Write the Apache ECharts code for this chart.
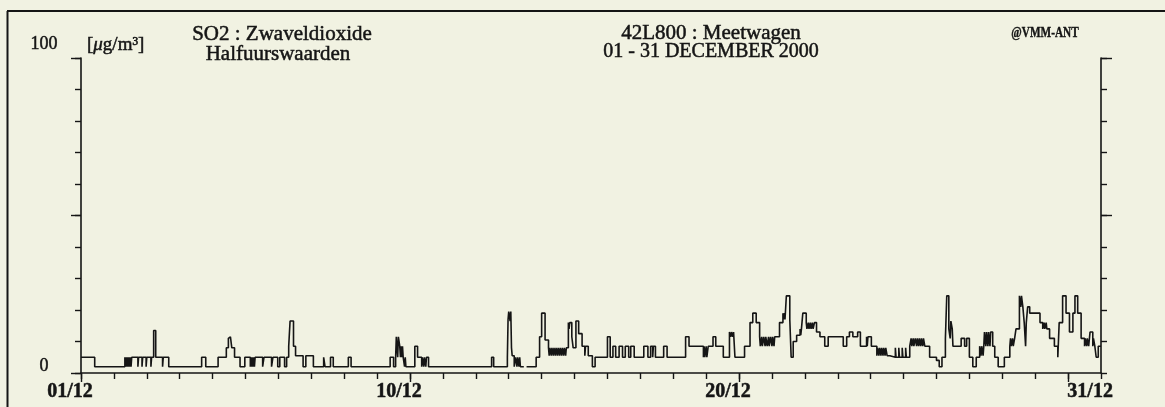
<!DOCTYPE html>
<html>
<head>
<meta charset="utf-8">
<script src="https://cdn.jsdelivr.net/npm/echarts@6/dist/echarts.min.js"></script>
<style>
html,body{margin:0;padding:0;background:#f1f2e2;}
#chart{width:1165px;height:407px;}
</style>
</head>
<body>
<div id="chart"></div>
<script>
// Half-hourly SO2 values as step change points: [hours since 01/12 00:00, value µg/m³]
const stepsA = [[0,5],[10,2],[32,5],[32.5,2],[33,5],[33.5,2],[34,5],[34.5,2],[35,5],[35.5,2],[36,5],[36.5,2],[37,5],[41.5,2],[42,5],[44.5,2],[45,5],[47.5,2],[48,5],[51,2],[51.5,5],[53,13.5],[54.5,5],[59.5,2],[60,5],[64,2],[88,5],[91,2],[100,5],[106,8],[107.5,11],[108,11.5],[109,11],[110,8],[112,5],[116,2],[119.5,5],[123.5,2],[124,5],[124.5,2],[125,5],[125.5,2],[126,5],[126.5,2],[127,5],[132.5,2],[133.5,5],[139,2],[140,5],[143.5,2],[145,5],[148.5,2]];
const stepsB = [[150,5],[151.5,8.5],[152.5,16.5],[155,8.5],[156.5,5.5],[162,2],[164,5.5],[169.5,2],[177,5],[178,2],[182,5],[184,2],[195,5],[197,2],[225.5,5],[228,2],[229.5,5],[230,11.5],[231,5],[231.5,11.5],[232.5,8.5],[233,5],[233.5,8.5],[234,5],[234.5,8.5],[235,5],[236,2],[236.5,5],[237,2],[243.5,8.5],[245.5,5],[248.5,2],[249,5],[250,2],[250.5,5],[251.5,2],[252,5],[253.5,2]];
const stepsC = [[299.5,5],[301,2],[311,5],[311.5,17],[312,19.5],[313,16.5],[313.5,19.5],[314,8],[314.5,5.5],[316,2],[317,5],[318,2],[318.5,5],[319.5,2],[320,5],[320.5,2],[322,2],[323,'-'],[325,2],[332,5],[334.5,11.5],[336,19],[338.5,10.5],[341,8],[341.5,5.5],[342,8],[343,5.5],[343.5,8],[344.5,5.5],[345,8],[346,5.5],[346.5,8],[347.5,5.5],[348,8],[349,5.5],[349.5,8],[350.5,5.5],[351,8],[352,5.5],[352.5,8],[353.5,5.5],[354,8],[355.5,16],[356,14],[356.5,16],[358,11.5],[359,8],[361,16.5],[363,12.5],[365.5,8.5],[367.5,5.5],[368,8.5],[370,5.5],[373,2],[375,5]];
const stepsD = [[384,11.5],[386,5],[388,8.5],[390,5],[392.5,8.5],[395,5],[397,8.5],[399.5,5],[401,8.5],[403.5,5],[410.5,8.5],[413.5,5],[415.5,8.5],[417,5],[417.5,8.5],[419,5],[425,8.5],[427.5,5],[441,11.5],[443.5,8.5],[454,5],[454.5,8.5],[455,5],[456,8.5],[456.5,5],[457.5,8.5],[461,11.5],[463,8.5],[468.5,5],[473,13],[474,11.5],[474.5,13],[475.5,11.5],[476,13],[477,5],[484,8.5],[488,16],[490,19],[492.5,16],[495,11.5],[495.5,8.5],[496.5,11.5],[497,8.5],[498,11.5],[499,8.5],[499.5,11.5],[500.5,8.5],[501.5,11.5],[502,8.5],[503,11.5],[504,8.5],[504.5,11.5],[505.5,8.5],[506,11.5]];
const stepsE = [[507,11.5],[509.5,16],[512,19],[512.5,17],[513,19],[513.5,17],[514.5,24.5],[517,17],[518,5],[519.5,10],[522,12],[524.5,14],[525,12],[525.5,14],[526.5,19],[529,16],[529.5,14],[530.5,16],[531,14],[532,16],[532.5,14],[533.5,16],[534,14],[535,16],[536.5,13],[539,11.5],[542.5,8.5],[545,11.5],[556,8.5],[558.5,11.5],[560.5,13],[563,11.5],[566.5,13],[568.5,8.5],[573,11.5],[573.5,8.5],[574,11.5],[576.5,8.5],[580.5,5.5],[581,8],[582,5.5],[582.5,8],[583.5,5.5],[584,8],[585,5.5],[585.5,8],[586.5,5.5],[587,8],[588,5.5],[590,5],[594,8],[594.5,5],[596.5,8],[597,5],[599,8],[599.5,5],[601.5,8],[602,5]];
const stepsF = [[604.5,8.5],[605.5,11],[606,8.5],[607,11],[607.5,8.5],[608.5,11],[609.5,8.5],[610,11],[611,8.5],[611.5,11],[612.5,8.5],[613,11],[614,8.5],[614.5,11],[615.5,8.5],[619,5],[624,4],[626,2],[628,5],[630.5,11],[631.5,24.5],[633,14],[634,11],[634.5,16.5],[635.5,14],[636,8.5],[642,11],[644.5,8.5],[646,11],[648,5],[650.5,2],[653,5],[655.5,8.5],[656.5,5.5],[657,8.5],[658,5.5],[658.5,8.5],[659,13],[660,8.5],[660.5,13],[661.5,8.5],[662,13],[663,8.5],[663.5,13],[665,8.5],[666.5,5],[669,2],[673.5,5],[677.5,8.5],[678,11],[678.5,8.5],[679.5,11],[680,8.5],[681,11],[682,14],[684.5,24.5],[685.5,21],[686,24.5],[687,21],[688,16],[689,8.5],[689.5,16],[690.5,21],[692,19],[699.5,16],[701.5,14],[702.5,16],[703,14],[704,16],[704.5,14],[706.5,11],[710,8.5],[712.5,5],[713.5,16],[716,24.5],[718.5,19],[721,13],[723.5,19],[725,24.5],[727,19],[729.5,11],[732,8.5],[732.5,11],[733.5,8.5],[734,11],[735,8.5],[736,13],[738,8.5],[738.5,11],[739.5,8.5],[740.5,5],[742,8.5],[744,8.5]];

const xLabelHours = [0, 240, 480, 720];
const xLabelTexts = ['01/12', '10/12', '20/12', '31/12'];
const yLabelValues = [0, 100];
const yLabelTexts = ['0', '100'];

const INK = '#151515';
const SERIF = '"Liberation Serif", "DejaVu Serif", serif';

const chart = echarts.init(document.getElementById('chart'), null, {renderer: 'canvas'});
const lineSt = {color: INK, width: 1.6};
const tickSt = {color: INK, width: 1.4};
const heavy = {textBorderColor: INK, textBorderWidth: 0.5};

const option = {
  backgroundColor: '#f1f2e2',
  animation: false,
  grid: {left: 81, right: 64, top: 58, bottom: 34, containLabel: false},
  xAxis: [
    {type: 'value', min: 0, max: 744, interval: 24, position: 'bottom',
     axisLine: {show: true, onZero: false, lineStyle: lineSt},
     axisTick: {show: true, length: 6, lineStyle: tickSt},
     axisLabel: {show: false}, splitLine: {show: false}},
    {type: 'value', min: 0, max: 744, position: 'bottom',
     axisLine: {show: false, onZero: false},
     axisTick: {show: true, customValues: xLabelHours, length: 9, lineStyle: tickSt},
     axisLabel: {show: true, customValues: xLabelHours, margin: 9,
       formatter: function (v) {
         const i = xLabelHours.indexOf(v);
         if (i < 0) return '';
         return (i === 3 ? '{b|' : '{a|') + xLabelTexts[i] + '}';
       },
       rich: {
         a: Object.assign({fontFamily: SERIF, fontSize: 20, fontWeight: 'bold', color: INK, padding: [0, 22, 0, 0]}, heavy),
         b: Object.assign({fontFamily: SERIF, fontSize: 20, fontWeight: 'bold', color: INK, padding: [0, 0, 0, 44]}, heavy)
       }},
     splitLine: {show: false}}
  ],
  yAxis: [
    {type: 'value', min: 0, max: 100, interval: 10, position: 'left',
     axisLine: {show: true, lineStyle: lineSt},
     axisTick: {show: true, length: 6, lineStyle: tickSt},
     axisLabel: {show: true, customValues: yLabelValues, align: 'center', margin: 37,
       formatter: function (v) {
         const i = yLabelValues.indexOf(v);
         if (i < 0) return '';
         return (i === 1 ? '{h|' : '{z|') + yLabelTexts[i] + '}';
       },
       rich: {
         h: Object.assign({fontFamily: SERIF, fontSize: 18, color: INK, padding: [0, 0, 28, 0]}, heavy),
         z: Object.assign({fontFamily: SERIF, fontSize: 18, color: INK, padding: [0, 0, 14, 0]}, heavy)
       }},
     splitLine: {show: false}},
    {type: 'value', min: 0, max: 100, position: 'left',
     axisLine: {show: false},
     axisTick: {show: true, customValues: [0, 50, 100], length: 10, lineStyle: tickSt},
     axisLabel: {show: false}, splitLine: {show: false}},
    {type: 'value', min: 0, max: 100, interval: 10, position: 'right',
     axisLine: {show: true, lineStyle: lineSt},
     axisTick: {show: true, length: 6, lineStyle: tickSt},
     axisLabel: {show: false}, splitLine: {show: false}},
    {type: 'value', min: 0, max: 100, position: 'right',
     axisLine: {show: false},
     axisTick: {show: true, customValues: [50, 100], length: 11, lineStyle: tickSt},
     axisLabel: {show: false}, splitLine: {show: false}}
  ],
  series: [{
    type: 'line', step: 'end', xAxisIndex: 0, yAxisIndex: 0,
    showSymbol: false, symbol: 'none', connectNulls: false,
    lineStyle: {color: INK, width: 1.6},
    data: [].concat(stepsA, stepsB, stepsC, stepsD, stepsE, stepsF)
  }],
  graphic: [
    {type: 'line', shape: {x1: 7, y1: 11, x2: 1165, y2: 11}, style: {stroke: INK, lineWidth: 2}},
    {type: 'line', shape: {x1: 7.5, y1: 11, x2: 7.5, y2: 407}, style: {stroke: INK, lineWidth: 2}},
    {type: 'text', x: 87, y: 45, style: {text: '[{i|μ}g/m³]', font: '19px ' + SERIF, fill: INK, stroke: INK, lineWidth: 0.5, textAlign: 'left', textVerticalAlign: 'middle',
      rich: {i: {fontFamily: SERIF, fontSize: 19, fontStyle: 'italic', fill: INK, stroke: INK, lineWidth: 0.5}}}},
    {type: 'text', x: 282, y: 34, style: {text: 'SO2 : Zwaveldioxide', font: '21px ' + SERIF, fill: INK, stroke: INK, lineWidth: 0.5, textAlign: 'center', textVerticalAlign: 'middle'}},
    {type: 'text', x: 278, y: 54, style: {text: 'Halfuurswaarden', font: '21px ' + SERIF, fill: INK, stroke: INK, lineWidth: 0.5, textAlign: 'center', textVerticalAlign: 'middle'}},
    {type: 'text', x: 711, y: 33, style: {text: '42L800 : Meetwagen', font: '21px ' + SERIF, fill: INK, stroke: INK, lineWidth: 0.5, textAlign: 'center', textVerticalAlign: 'middle'}},
    {type: 'text', x: 711, y: 52, style: {text: '01 - 31 DECEMBER 2000', font: '20px ' + SERIF, fill: INK, stroke: INK, lineWidth: 0.5, textAlign: 'center', textVerticalAlign: 'middle'}},
    {type: 'text', x: 1045, y: 33.5, scaleX: 0.75, style: {text: '@VMM-ANT', font: 'bold 15px ' + SERIF, fill: INK, stroke: INK, lineWidth: 0.4, textAlign: 'center', textVerticalAlign: 'middle'}}
  ]
};
chart.setOption(option);
</script>
</body>
</html>
